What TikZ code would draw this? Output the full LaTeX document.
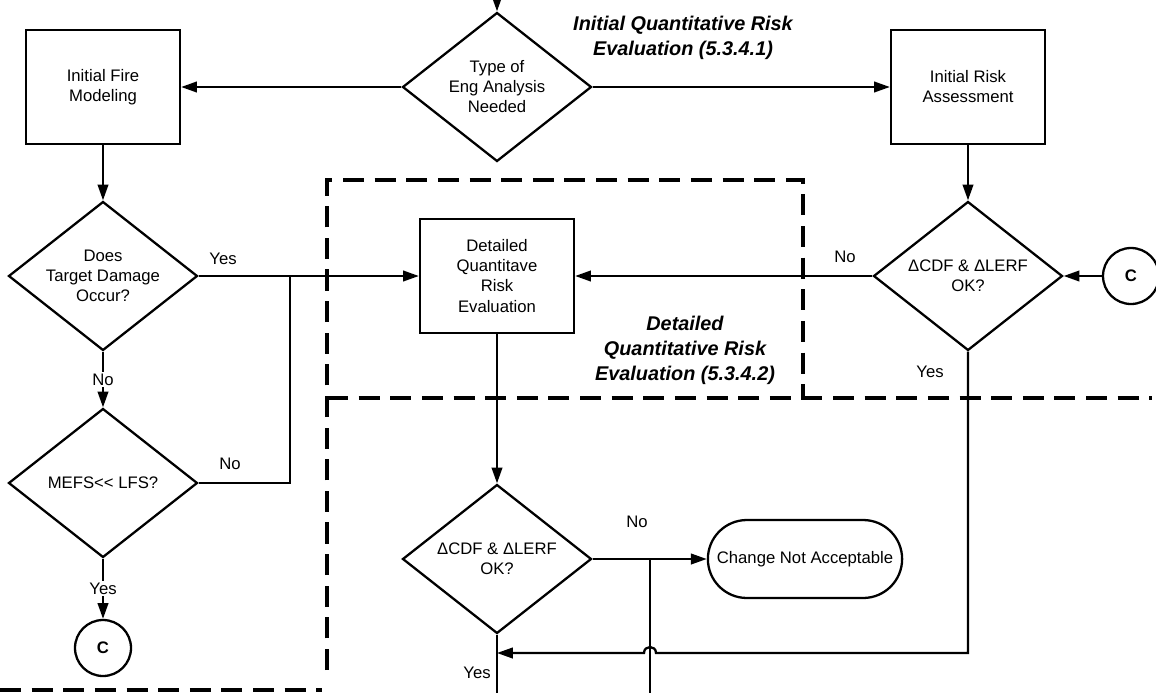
\documentclass[tikz,border=0pt]{standalone}
\usepackage{fontspec}
\setmainfont{Liberation Sans}
\usetikzlibrary{arrows.meta,shapes.geometric,shapes.misc}

\begin{document}
\begin{tikzpicture}[x=0.02cm,y=-0.02cm,->,>={Triangle[length=9pt,width=6pt]},line width=1.3pt,
	main node/.style={rectangle,draw,minimum width=3.08cm,minimum height=2.28cm,align=center,font=\fontsize{9.5}{11.4}\selectfont},
	decision node/.style={diamond,draw,aspect=1.27,inner sep=0pt,minimum width=3.78cm,minimum height=2.98cm,align=center,font=\fontsize{9.5}{11.4}\selectfont},
	connector node/.style={circle,draw,minimum size=1.12cm,inner sep=0pt,font=\fontsize{9.5}{11.4}\selectfont\bfseries},
	end node/.style={rounded rectangle,draw,minimum width=4.12cm,minimum height=1.56cm,font=\fontsize{9.5}{11.4}\selectfont},
	region label/.style={align=center,font=\fontsize{11.3}{14.2}\selectfont\bfseries\itshape},
	answer/.style={inner sep=1pt,font=\fontsize{9.5}{11.4}\selectfont},
	region/.style={-,line width=1.85pt,dash pattern=on 12pt off 6pt}]
			
			\useasboundingbox (0,0) rectangle (1156,693);
			
			\node[main node] (1) at (103,87) {Initial Fire\\Modeling};
			\node[decision node] (2) at (497,87) {Type of\\Eng Analysis\\Needed};
			\node[main node] (3) at (968,87) {Initial Risk\\Assessment};
			\node[decision node] (4) at (103,276) {Does\\Target Damage\\Occur?};
			\node[main node] (5) at (497,276) {Detailed\\Quantitave\\Risk\\Evaluation};
			\node[decision node] (6) at (968,276) {ΔCDF \& ΔLERF\\OK?};
			\node[connector node] (7) at (1131,276) {C};
			\node[decision node] (8) at (103,483) {MEFS<\kern0pt< LFS?};
			\node[decision node] (9) at (497,559) {ΔCDF \& ΔLERF\\OK?};
			\node[end node] (10) at (805,559) {Change Not Acceptable};
			\node[connector node] (11) at (103,648) {C};
			
			\node[region label] (initial) at (683,38) {Initial Quantitative Risk\\Evaluation (5.3.4.1)};
			\node[region label] (detailed) at (685,350) {Detailed\\Quantitative Risk\\Evaluation (5.3.4.2)};
			
			\coordinate (top) at (497,0);
			\coordinate (j1) at (290,276);
			\coordinate (j2) at (650,559);
			\coordinate (j3) at (968,653);
			\coordinate (e1) at (497,693);
			\coordinate (e2) at (650,693);
			
			\path
			(top) edge (2)
			(2) edge (1)
				edge (3)
			(1) edge (4)
			(3) edge (6)
			(7) edge (6)
			(6) edge (5)
			(5) edge (9)
			(4) edge node[answer,fill=white] (no1) {No} (8)
			(8) edge node[answer,fill=white] (yes2) {Yes} (11)
			;
			
			\draw[-] (4) -- (j1);
			\draw (j1) -- (5);
			\draw[-] (8) -- (j1 |- 8) -- (j1);
			\draw[-] (9) -- (j2) -- (e2);
			\draw (j2) -- (10);
			\draw[-] (9) -- (e1);
			\draw (6) -- (j3) -- (656,653) .. controls (656,645) and (644,645) .. (644,653) -- (9 |- j3);
			
			\node[answer] (yes1) at (223,259) {Yes};
			\node[answer] (no2) at (230,464) {No};
			\node[answer] (no3) at (845,257) {No};
			\node[answer] (yes3) at (930,372) {Yes};
			\node[answer] (no4) at (637,522) {No};
			\node[answer] (yes4) at (477,673) {Yes};
			
			\draw[region] (327,670) -- (327,180) -- (803,180) -- (803,398);
			\draw[region] (327,398) -- (1152,398);
			\draw[region] (0,690) -- (322,690);
			\end{tikzpicture}
\end{document}
